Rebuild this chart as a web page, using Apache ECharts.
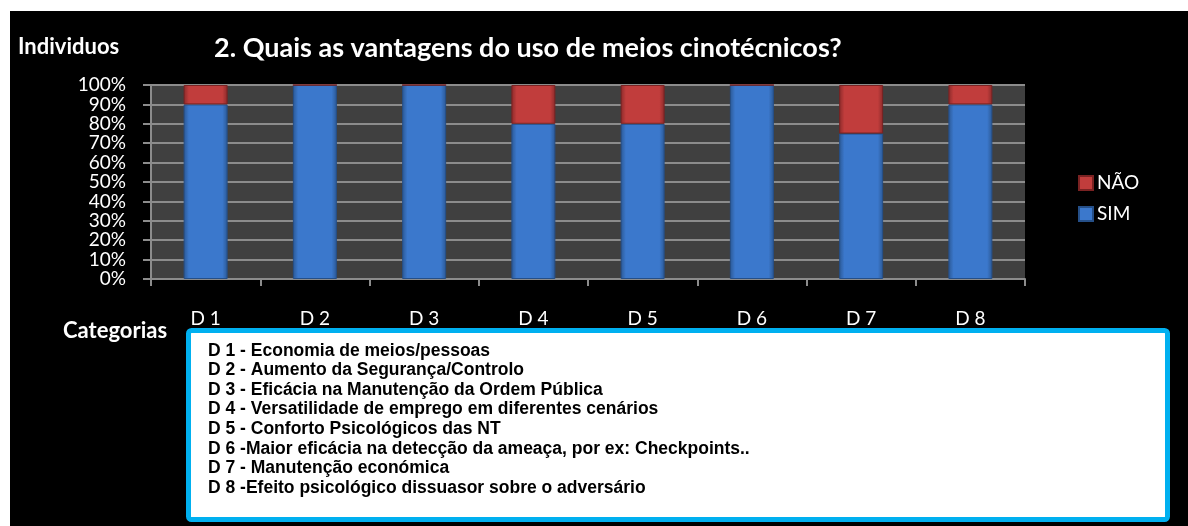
<!DOCTYPE html>
<html><head><meta charset="utf-8">
<script src="https://cdn.jsdelivr.net/npm/echarts@6/dist/echarts.min.js"></script>
<style>
html,body{margin:0;padding:0;background:#fff;}
#c{position:absolute;left:10px;top:11px;width:1178px;height:515px;background:#000;}
</style></head>
<body><div id="c"></div>
<script>
const categories = ['D 1','D 2','D 3','D 4','D 5','D 6','D 7','D 8'];
const simValues = [90, 100, 100, 80, 80, 100, 75, 90];
const naoValues = [10, 0, 0, 20, 20, 0, 25, 10];
const seriesNames = ['SIM', 'NÃO'];
const yTicks = { min: 0, max: 100, interval: 10 };
const descriptions = [
  'D 1 - Economia de meios/pessoas',
  'D 2 - Aumento da Segurança/Controlo',
  'D 3 - Eficácia na Manutenção da Ordem Pública',
  'D 4 - Versatilidade de emprego em diferentes cenários',
  'D 5 - Conforto Psicológicos das NT',
  'D 6 -Maior eficácia na detecção da ameaça, por ex: Checkpoints..',
  'D 7 - Manutenção económica',
  'D 8 -Efeito psicológico dissuasor sobre o adversário'
];
const titleText = '2. Quais as vantagens do uso de meios cinotécnicos?';

const chart = echarts.init(document.getElementById('c'), null, {renderer:'canvas'});
const hGrad = (edge, mid) => new echarts.graphic.LinearGradient(0,0,1,0,[
  {offset:0,color:edge},{offset:0.12,color:mid},{offset:0.88,color:mid},{offset:1,color:edge}]);
const blue = hGrad('#2b5894', '#3b78cc');
const red = hGrad('#8a2a2a', '#c13d3c');

const descTexts = descriptions.map((t,i)=>({
  type:'text', left:198, top: 340 + i*19.55 - 9,
  style:{text:t, fill:'#000', font:'bold 17.5px "Liberation Sans", Arial, sans-serif'}
}));

chart.setOption({
  animation:false,
  backgroundColor:'#000',
  title:{text:titleText, left:204, top:21, padding:0,
    textStyle:{color:'#fff', fontFamily:'Lato', fontWeight:'bold', fontSize:27, lineHeight:32}},
  legend:{data:[seriesNames[1], seriesNames[0]], orient:'vertical', left:1063, top:157,
    itemWidth:14, itemHeight:14, itemGap:11, icon:'rect',
    textStyle:{color:'#fff', fontFamily:'Lato', fontSize:19, lineHeight:20, padding:[0,0,0,-1]}},
  grid:{left:141, right:163, top:74, bottom:247, show:true, backgroundColor:'#404040', borderWidth:0},
  xAxis:{type:'category', data:categories,
    axisLine:{lineStyle:{color:'#8c8c8c', width:2}},
    axisTick:{show:true, length:7, lineStyle:{color:'#8c8c8c', width:2}},
    axisLabel:{color:'#fff', fontFamily:'Lato', fontSize:19, margin:30}},
  yAxis:{type:'value', min:yTicks.min, max:yTicks.max, interval:yTicks.interval,
    axisLine:{show:true, lineStyle:{color:'#8c8c8c', width:2}},
    axisTick:{show:true, length:8, lineStyle:{color:'#8c8c8c', width:2}},
    splitLine:{lineStyle:{color:'#8c8c8c', width:2}},
    axisLabel:{color:'#fff', fontFamily:'Lato', fontSize:19, margin:25, formatter:'{value}%', lineHeight:19}},
  series:[
    {name:seriesNames[0], type:'bar', stack:'s', data:simValues, barWidth:44,
      itemStyle:{color:blue, borderColor:'#254f88', borderWidth:1}},
    {name:seriesNames[1], type:'bar', stack:'s', data:naoValues, barWidth:44,
      itemStyle:{color:red, borderColor:'#7a2222', borderWidth:1}}
  ],
  graphic:[
    {type:'text', left:8, top:25, style:{text:'Individuos', fill:'#fff', font:'bold 22px Lato'}},
    {type:'text', left:53, top:309, style:{text:'Categorias', fill:'#fff', font:'bold 22px Lato'}},
    {type:'rect', shape:{x:178.5, y:319.5, width:979, height:189, r:3},
      style:{fill:'#fff', stroke:'#00b0f0', lineWidth:5}},
    ...descTexts
  ]
});
</script></body></html>
